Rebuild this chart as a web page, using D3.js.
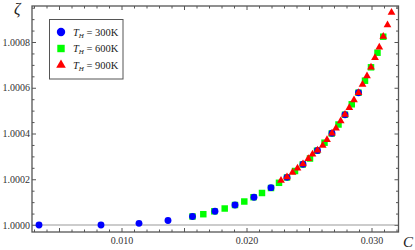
<!DOCTYPE html>
<html lang="en">
<head>
<meta charset="UTF-8">
<title>zeta_vs_C</title>
<style>
    body { margin: 0; background: #fff; }
    svg { display: block; }
    .tick text { font-family: "Liberation Serif", serif; font-size: 10px; fill: #333; }
    .tick line { stroke: #555; }
    .legend text { font-family: "Liberation Serif", serif; font-size: 10.5px; fill: #222; }
</style>
</head>
<body>
<div id="chart"></div>
<script src="https://cdn.jsdelivr.net/npm/d3@7"></script>
<script>
// values
const seriesNames = ["300K", "600K", "900K"];

const c300 = [0.0034, 0.00836, 0.0114, 0.01372, 0.01568, 0.01748, 0.01908, 0.0206, 0.02196,
    0.02324, 0.02452, 0.02568, 0.02684, 0.02788, 0.02896];
const z300 = [1.0000000, 1.0000000, 1.0000074, 1.0000197, 1.0000372, 1.0000599, 1.0000874, 1.0001211,
    1.0001631, 1.0002085, 1.0002658, 1.0003257, 1.0004009, 1.0004822, 1.0005784];

const c600 = [0.01568, 0.016544, 0.017424, 0.018256, 0.01908, 0.019824, 0.02056, 0.02124, 0.02196,
    0.0226, 0.02324, 0.02388, 0.0245, 0.02508, 0.02564, 0.02624, 0.02682, 0.02736, 0.02788,
    0.02842, 0.02896, 0.02948, 0.02996, 0.03048, 0.03094];
const z600 = [1.0000372, 1.0000472, 1.0000599, 1.0000721, 1.0000874, 1.0001027, 1.0001215, 1.0001399,
    1.0001617, 1.0001845, 1.0002077, 1.0002361, 1.0002645, 1.0002907, 1.0003248, 1.0003598,
    1.0004000, 1.0004393, 1.0004822, 1.0005277, 1.0005784, 1.0006308, 1.0006894, 1.0007532, 1.0008232];

const c900 = [0.02276, 0.02324, 0.02368, 0.02408, 0.02452, 0.024944, 0.02528, 0.02568, 0.026096,
    0.02644, 0.02684, 0.02716, 0.027536, 0.02788, 0.028224, 0.0286, 0.02896, 0.02928, 0.02964,
    0.02996, 0.03028, 0.030624, 0.03094, 0.03128, 0.0316];
const z900 = [1.0001945, 1.0002098, 1.0002295, 1.0002479, 1.0002667, 1.0002898, 1.0003091, 1.0003266,
    1.0003475, 1.0003725, 1.0004009, 1.0004227, 1.0004546, 1.0004831, 1.0005128, 1.0005465,
    1.0005784, 1.0006142, 1.0006514, 1.0006894, 1.0007309, 1.0007768, 1.0008241, 1.0008743, 1.0009290];

const xTickLabels = [0.010, 0.020, 0.030];
const yTickLabels = [1.0000, 1.0002, 1.0004, 1.0006, 1.0008];

// layout
const W = 415, H = 250;
const margin = { top: 6, left: 32 };
const width = 366.5, height = 226;

const x = d3.scaleLinear().domain([0.00284, 0.03216]).range([0, width]);
const y = d3.scaleLinear().domain([0.9999694, 1.0009574]).range([height, 0]);

const svg = d3.select("#chart").append("svg")
    .attr("width", W).attr("height", H);
const g = svg.append("g")
    .attr("transform", `translate(${margin.left},${margin.top})`);

// minor + medium ticks (inward, all four sides)
const xMinor = d3.range(3, 33).map(d => d / 1000);
const yMinor = d3.range(0, 20).map(d => 1 + d * 0.00005);
const xLen = d => (Math.round(d * 1000) % 5 === 0 ? 4 : 2.5);
const yLen = d => (Math.round((d - 1) * 20000) % 4 === 0 ? 4 : 2.5);

function tickAxis(axis, vals, lenFn, sign) {
    return sel => {
        sel.call(axis.tickValues(vals).tickSize(0).tickFormat(""));
        sel.select(".domain").remove();
        sel.selectAll(".tick line")
            .each(function(d) {
                const l = lenFn(d) * sign;
                const ln = d3.select(this);
                if (axis === axB || axis === axT) ln.attr("y2", l); else ln.attr("x2", l);
            });
    };
}
const axB = d3.axisBottom(x), axT = d3.axisTop(x), axL = d3.axisLeft(y), axR = d3.axisRight(y);
g.append("g").attr("transform", `translate(0,${height})`).call(tickAxis(axB, xMinor, xLen, -1));
g.append("g").call(tickAxis(axT, xMinor, xLen, 1));
g.append("g").call(tickAxis(axL, yMinor, yLen, 1));
g.append("g").attr("transform", `translate(${width},0)`).call(tickAxis(axR, yMinor, yLen, -1));

// labelled axes
const xAxis = g.append("g")
    .attr("transform", `translate(0,${height})`)
    .call(d3.axisBottom(x).tickValues(xTickLabels).tickFormat(d3.format(".3f")).tickSize(0).tickPadding(5));
xAxis.select(".domain").remove();

const yAxis = g.append("g")
    .call(d3.axisLeft(y).tickValues(yTickLabels).tickFormat(d3.format(".4f")).tickSize(0).tickPadding(2));
yAxis.select(".domain").remove();

// reference line at zeta = 1
g.append("line")
    .attr("x1", 0).attr("x2", width)
    .attr("y1", y(1)).attr("y2", y(1))
    .style("stroke", "#999").style("stroke-width", 1);

// frame
g.append("rect")
    .attr("width", width).attr("height", height)
    .style("fill", "none").style("stroke", "#555").style("stroke-width", 1.3);

// points: green under blue, red on top
const series = [
    { c: c600, z: z600, color: "#00ff00", type: d3.symbolSquare, size: 42 },
    { c: c300, z: z300, color: "#0000ff", type: d3.symbolCircle, size: 37 },
    { c: c900, z: z900, color: "#ff0000", type: d3.symbolTriangle, size: 26 }
];
series.forEach(s => {
    g.append("g").selectAll("path")
        .data(s.c.map((c, i) => [c, s.z[i]]))
        .enter().append("path")
        .attr("transform", d => `translate(${x(d[0])},${y(d[1])})`)
        .attr("d", d3.symbol().type(s.type).size(s.size))
        .style("fill", s.color);
});

// axis titles
svg.append("text")
    .attr("x", 14).attr("y", 14)
    .style("font-family", "Liberation Serif, serif").style("font-size", "16px").style("font-style", "italic")
    .style("fill", "#222")
    .text("ζ");
svg.append("text")
    .attr("x", 403).attr("y", 247)
    .style("font-family", "Liberation Serif, serif").style("font-size", "15px").style("font-style", "italic")
    .style("fill", "#222")
    .text("C");

// legend
const legend = svg.append("g").attr("class", "legend");
legend.append("rect")
    .attr("x", 49.5).attr("y", 19.5).attr("width", 73.5).attr("height", 59.5)
    .style("fill", "#fff").style("stroke", "#555").style("stroke-width", 1);

const legSym = [
    { type: d3.symbolCircle, color: "#0000ff", size: 55 },
    { type: d3.symbolSquare, color: "#00ff00", size: 55 },
    { type: d3.symbolTriangle, color: "#ff0000", size: 40 }
];
const items = legend.selectAll(".item")
    .data(seriesNames)
    .enter().append("g")
    .attr("transform", (d, i) => `translate(0,${32 + i * 16.5})`);

items.append("path")
    .attr("transform", "translate(61,0)")
    .attr("d", (d, i) => d3.symbol().type(legSym[i].type).size(legSym[i].size)())
    .style("fill", (d, i) => legSym[i].color);

const t = items.append("text").attr("x", 73).attr("y", 3.6);
t.append("tspan").style("font-style", "italic").text("T");
t.append("tspan").style("font-style", "italic").style("font-size", "7px").attr("dy", 2).text("H");
t.append("tspan").attr("dy", -2).text(d => " = " + d);
</script>
</body>
</html>
